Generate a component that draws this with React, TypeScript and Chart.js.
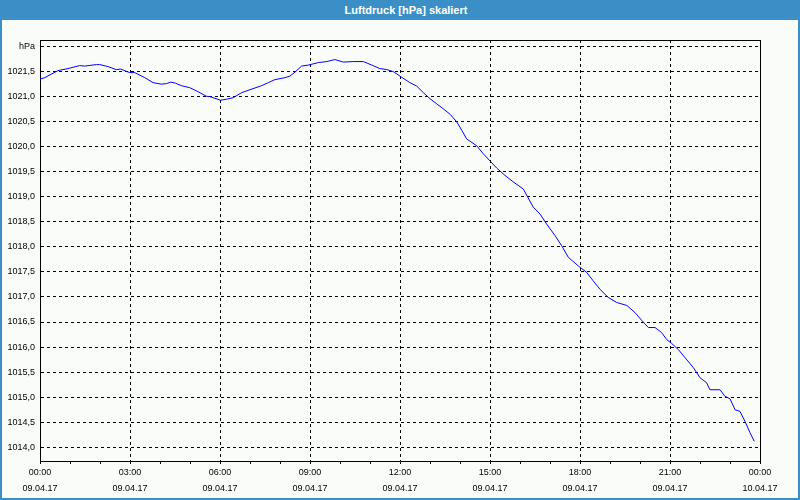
import React, { useEffect, useRef } from "react";
import { Chart, registerables } from "chart.js";

Chart.register(...registerables);

const chartTitle = "Luftdruck [hPa] skaliert";
const unitLabel = "hPa";

// hours since 09.04.17 00:00
const hours = [
  0, 0.16, 0.6, 0.93, 1.32, 1.49, 1.88, 1.99, 2.27, 2.54, 2.69, 2.99, 3.16, 3.49, 3.77,
  4.04, 4.21, 4.36, 4.51, 4.71, 4.99, 5.27, 5.54, 5.67, 6.02, 6.22, 6.44, 6.72, 7.0,
  7.39, 7.61, 7.83, 8.17, 8.33, 8.5, 8.72, 8.94, 9.28, 9.56, 9.83, 10.11, 10.44, 10.78,
  11.06, 11.33, 11.56, 11.78, 12.0, 12.33, 12.56, 12.78, 13.0, 13.22, 13.44, 13.67,
  13.89, 14.06, 14.22, 14.56, 14.78, 15.0, 15.22, 15.5, 15.78, 16.11, 16.44, 16.67,
  16.89, 17.17, 17.39, 17.61, 17.94, 18.22, 18.44, 18.67, 18.94, 19.22, 19.56, 19.83,
  20.06, 20.28, 20.5, 20.72, 20.89, 21.06, 21.28, 21.5, 21.78, 22.0, 22.22, 22.33,
  22.67, 22.83, 23.0, 23.17, 23.33, 23.5, 23.67, 23.81,
];

const pressure = [
  1021.34, 1021.37, 1021.51, 1021.55, 1021.61, 1021.6, 1021.63, 1021.63, 1021.59, 1021.53,
  1021.54, 1021.47, 1021.47, 1021.37, 1021.27, 1021.24, 1021.25, 1021.28, 1021.26, 1021.21,
  1021.17, 1021.09, 1021.0, 1020.99, 1020.92, 1020.94, 1020.97, 1021.07, 1021.13, 1021.21,
  1021.27, 1021.33, 1021.37, 1021.4, 1021.48, 1021.6, 1021.62, 1021.67, 1021.69, 1021.73,
  1021.68, 1021.69, 1021.69, 1021.62, 1021.55, 1021.53, 1021.49, 1021.4, 1021.27, 1021.2,
  1021.07, 1020.95, 1020.85, 1020.75, 1020.64, 1020.49, 1020.32, 1020.15, 1020.01, 1019.85,
  1019.71, 1019.57, 1019.42, 1019.29, 1019.15, 1018.79, 1018.65, 1018.45, 1018.22, 1018.02,
  1017.79, 1017.62, 1017.49, 1017.32, 1017.15, 1016.99, 1016.89, 1016.83, 1016.69, 1016.53,
  1016.39, 1016.39, 1016.29, 1016.15, 1016.07, 1015.95, 1015.79, 1015.59, 1015.39, 1015.29,
  1015.15, 1015.15, 1015.02, 1014.97, 1014.75, 1014.72, 1014.52, 1014.29, 1014.12,
];

const yTickValues = [
  1014, 1014.5, 1015, 1015.5, 1016, 1016.5, 1017, 1017.5, 1018, 1018.5, 1019, 1019.5,
  1020, 1020.5, 1021, 1021.5, 1022,
];

const timeLabels = ["00:00", "03:00", "06:00", "09:00", "12:00", "15:00", "18:00", "21:00", "00:00"];
const dateLabels = [
  "09.04.17", "09.04.17", "09.04.17", "09.04.17", "09.04.17", "09.04.17", "09.04.17",
  "09.04.17", "10.04.17",
];

const BLUE = "#3c8fc6";
const FONT = "'Liberation Sans', Arial, sans-serif";

const framePlugin = {
  id: "frame",
  afterDraw(chart: any) {
    const { ctx, chartArea } = chart;
    const { left, top, right, bottom } = chartArea;
    ctx.save();
    ctx.strokeStyle = "#000";
    ctx.lineWidth = 1;
    ctx.beginPath();
    const t = Math.round(top) + 0.5;
    const r = Math.round(right) + 0.5;
    ctx.moveTo(Math.round(left), t);
    ctx.lineTo(r, t);
    ctx.lineTo(r, Math.round(bottom) + 1);
    ctx.stroke();
    ctx.restore();
  },
};

export default function App() {
  const canvasRef = useRef<HTMLCanvasElement | null>(null);

  useEffect(() => {
    if (!canvasRef.current) return;
    const chart = new Chart(canvasRef.current, {
      type: "line",
      data: {
        datasets: [
          {
            data: hours.map((h, i) => ({ x: h, y: pressure[i] })),
            borderColor: "#0000ff",
            borderWidth: 1,
            pointRadius: 0,
            tension: 0,
            fill: false,
          },
        ],
      },
      options: {
        animation: false,
        responsive: false,
        maintainAspectRatio: false,
        layout: { padding: { top: 40, right: 40, left: 0, bottom: 0 } },
        plugins: {
          legend: { display: false },
          tooltip: { enabled: false },
          title: { display: false },
        },
        scales: {
          x: {
            type: "linear",
            min: 0,
            max: 24,
            afterFit(scale: any) {
              scale.height = 39;
            },
            ticks: {
              stepSize: 1,
              autoSkip: false,
              maxRotation: 0,
              minRotation: 0,
              padding: 1,
              color: "#000",
              font: { family: FONT, size: 9, lineHeight: 16 / 9 },
              callback: (v: any) => {
                const n = Number(v);
                if (n % 3 !== 0) return "";
                const i = n / 3;
                return [timeLabels[i], dateLabels[i]];
              },
            },
            grid: {
              color: (ctx: any) =>
                ctx.tick && ctx.tick.value % 3 === 0 ? "#000" : "rgba(0,0,0,0)",
              tickColor: "#000",
              tickLength: 3,
              lineWidth: 1,
            },
            border: { display: true, color: "#000", width: 1, dash: [3, 3] },
          },
          y: {
            type: "linear",
            min: 1013.73,
            max: 1022.12,
            afterFit(scale: any) {
              scale.width = 40;
            },
            afterBuildTicks(scale: any) {
              scale.ticks = yTickValues.map((v) => ({ value: v }));
            },
            ticks: {
              autoSkip: false,
              padding: 5,
              color: "#000",
              font: { family: FONT, size: 9 },
              callback: (v: any) => {
                const n = Number(v);
                if (Math.abs(n - 1022) < 1e-6) return unitLabel;
                return n.toFixed(1).replace(".", ",");
              },
            },
            grid: { color: "#000", drawTicks: false, lineWidth: 1 },
            border: { display: true, color: "#000", width: 1, dash: [3, 3] },
          },
        },
      },
      plugins: [framePlugin],
    });
    return () => chart.destroy();
  }, []);

  return (
    <div
      style={{
        position: "fixed",
        left: 0,
        top: 0,
        width: 800,
        height: 500,
        boxSizing: "border-box",
        background: "#fafcfa",
        borderLeft: `2px solid ${BLUE}`,
        borderRight: `2px solid ${BLUE}`,
        borderBottom: `2px solid ${BLUE}`,
      }}
    >
      <div
        style={{
          position: "absolute",
          left: -2,
          top: 0,
          width: 800,
          height: 20,
          background: BLUE,
          color: "#fff",
          fontFamily: FONT,
          fontWeight: "bold",
          fontSize: 11,
          lineHeight: "20px",
          textAlign: "center",
          paddingLeft: 12,
          boxSizing: "border-box",
        }}
      >
        {chartTitle}
      </div>
      <canvas
        ref={canvasRef}
        width={800}
        height={500}
        style={{ position: "absolute", left: -2, top: 0, display: "block" }}
      />
    </div>
  );
}
